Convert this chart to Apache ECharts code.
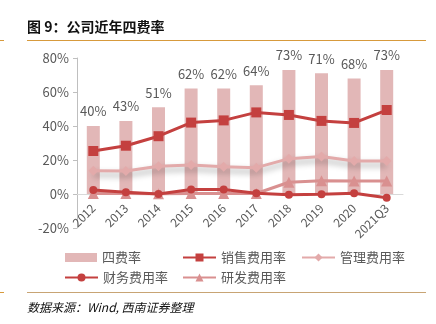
<!DOCTYPE html>
<html><head><meta charset="utf-8">
<script src="https://cdn.jsdelivr.net/npm/echarts@6/dist/echarts.min.js"></script>
<style>html,body{margin:0;padding:0;background:#fff}#c{width:436px;height:324px}</style>
</head><body><div id="c"></div>
<script>
var categories = ['2012','2013','2014','2015','2016','2017','2018','2019','2020','2021Q3'];
var totalRate = [40,43,51,62,62,64,73,71,68,73];
var salesRate = [25.3,28.4,34,42,43.3,48,46.5,43,41.8,49.4];
var mgmtRate = [13.7,13.5,16.3,17,16,15.5,20.8,22,19.4,19.4];
var finRate = [2.3,1,0,2.7,2.7,0.4,-0.4,-0.2,0.4,-2.2];
var rdRate = [0.3,0.3,0.2,0.3,0.3,0.3,6.9,7.8,7.6,7.6];
var yTicks = [-20,0,20,40,60,80];

var FONT = '"Noto Sans CJK SC","Noto Sans",sans-serif';
var gray = '#595959';
var chart = echarts.init(document.getElementById('c'));
function leg(name, left, top, icon, w, h){
  return {data:[name], left:left, top:top, itemWidth:w, itemHeight:h, icon:icon,
    textStyle:{color:gray, fontSize:13, fontFamily:FONT}, itemGap:0, padding:0};
}
chart.setOption({
  animation:false,
  textStyle:{fontFamily:FONT},
  grid:{left:77, right:33, top:58, bottom:96},
  xAxis:{type:'category', data:categories,
    axisLine:{onZero:true, lineStyle:{color:'#d9d9d9', width:1}},
    axisTick:{show:false},
    axisLabel:{rotate:45, color:gray, fontSize:12, margin:-22, interval:0, fontFamily:FONT}},
  yAxis:{type:'value', min:yTicks[0], max:yTicks[yTicks.length-1], interval:20,
    axisLine:{show:true, lineStyle:{color:'#bfbfbf'}},
    axisTick:{show:true, length:4, lineStyle:{color:'#bfbfbf'}},
    splitLine:{show:false},
    axisLabel:{color:gray, fontSize:13, formatter:function(v){return v+'%';}}},
  legend:[
    leg('四费率', 65, 251, 'rect', 32, 9),
    leg('销售费用率', 182, 251, null, 33, 10),
    leg('管理费用率', 301, 251, null, 33, 10),
    leg('财务费用率', 64, 271, null, 33, 10),
    leg('研发费用率', 182, 271, null, 33, 10)
  ],
  series:[
    {name:'四费率', type:'bar', data:totalRate, barWidth:13, z:1,
      itemStyle:{color:'#e2b7b7'},
      label:{show:true, position:'top', distance:8, color:gray, fontSize:13, formatter:'{c}%'}},
    {name:'管理费用率', type:'line', data:mgmtRate, symbol:'diamond', symbolSize:10, z:3,
      lineStyle:{color:'#e3aaaa', width:3, shadowColor:'rgba(0,0,0,0.35)', shadowBlur:6, shadowOffsetY:4},
      itemStyle:{color:'#e3aaaa'}},
    {name:'研发费用率', type:'line', data:rdRate, symbol:'triangle', symbolSize:11, z:4,
      lineStyle:{color:'#d99090', width:3}, itemStyle:{color:'#d99090'}},
    {name:'财务费用率', type:'line', data:finRate, symbol:'circle', symbolSize:8, z:5,
      lineStyle:{color:'#c4403f', width:3}, itemStyle:{color:'#c4403f'}},
    {name:'销售费用率', type:'line', data:salesRate, symbol:'rect', symbolSize:10, z:6,
      lineStyle:{color:'#c4403f', width:3}, itemStyle:{color:'#c4403f'}}
  ],
  graphic:[
    {type:'text', left:27, top:20, style:{text:'图 9：公司近年四费率', fill:'#111', font:'bold 14px '+FONT}},
    {type:'rect', shape:{x:27, y:40, width:399, height:1}, style:{fill:'#d79a3c'}},
    {type:'rect', shape:{x:0, y:40, width:4, height:1}, style:{fill:'#d79a3c'}},
    {type:'rect', shape:{x:27, y:292, width:399, height:1}, style:{fill:'#c8a474'}},
    {type:'rect', shape:{x:0, y:292, width:4, height:1}, style:{fill:'#d79a3c'}},
    {type:'text', left:27, top:301, style:{text:'数据来源：Wind, 西南证券整理', fill:'#111', font:'italic 12px '+FONT}}
  ]
});
</script></body></html>
